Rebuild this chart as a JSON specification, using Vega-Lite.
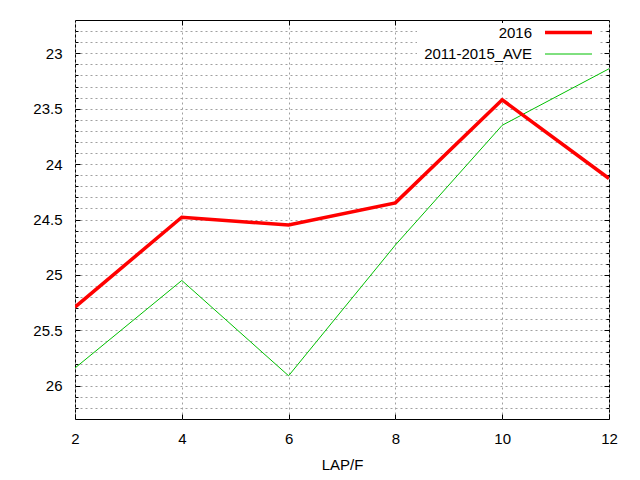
{
  "$schema": "https://vega.github.io/schema/vega-lite/v6.json",
  "width": 534,
  "height": 399,
  "autosize": "none",
  "padding": {"left": 75, "top": 20, "right": 31, "bottom": 61},
  "background": "white",
  "config": {
    "view": {"stroke": "black", "strokeWidth": 1},
    "font": "Liberation Sans",
    "axis": {
      "labelFont": "Liberation Sans",
      "labelFontSize": 15,
      "labelColor": "black",
      "titleFont": "Liberation Sans",
      "titleFontSize": 15,
      "titleFontWeight": "normal",
      "titleColor": "black",
      "domain": false,
      "tickColor": "black",
      "gridColor": "#a0a0a0",
      "gridDash": [2, 3],
      "gridWidth": 1,
      "gridOpacity": 1,
      "labelFlush": false,
      "labelOverlap": false
    },
    "legend": {
      "title": null,
      "orient": "none",
      "legendX": 342,
      "legendY": 3,
      "symbolType": "M-3.133,0H3.133",
      "symbolSize": 225,
      "symbolOffset": 142,
      "labelAlign": "right",
      "labelOffset": -46,
      "labelFont": "Liberation Sans",
      "labelFontSize": 15,
      "labelColor": "black",
      "padding": 0,
      "fillColor": "white",
      "rowPadding": 5
    }
  },
  "data": {
    "values": [
      {"lap": 2, "series": "2011-2015_AVE", "time": 25.84},
      {"lap": 4, "series": "2011-2015_AVE", "time": 25.05},
      {"lap": 6, "series": "2011-2015_AVE", "time": 25.91},
      {"lap": 8, "series": "2011-2015_AVE", "time": 24.73},
      {"lap": 10, "series": "2011-2015_AVE", "time": 23.65},
      {"lap": 12, "series": "2011-2015_AVE", "time": 23.14},
      {"lap": 2, "series": "2016", "time": 25.29},
      {"lap": 4, "series": "2016", "time": 24.48},
      {"lap": 6, "series": "2016", "time": 24.55},
      {"lap": 8, "series": "2016", "time": 24.35},
      {"lap": 10, "series": "2016", "time": 23.42},
      {"lap": 12, "series": "2016", "time": 24.13}
    ]
  },
  "layer": [
    {
      "mark": {"type": "line", "clip": true},
      "encoding": {
        "x": {
          "field": "lap",
          "type": "quantitative",
          "scale": {"domain": [2, 12], "nice": false, "zero": false},
          "axis": {
            "orient": "bottom",
            "title": "LAP/F",
            "values": [2, 4, 6, 8, 10, 12],
            "tickSize": -5,
            "labelPadding": 17,
            "titlePadding": 11,
            "grid": true
          }
        },
        "y": {
          "field": "time",
          "type": "quantitative",
          "scale": {"domain": [22.7, 26.3], "nice": false, "zero": false, "reverse": true},
          "axis": {
            "orient": "left",
            "title": null,
            "values": [22.8, 22.9, 23, 23.1, 23.2, 23.3, 23.4, 23.5, 23.6, 23.7, 23.8, 23.9, 24, 24.1, 24.2, 24.3, 24.4, 24.5, 24.6, 24.7, 24.8, 24.9, 25, 25.1, 25.2, 25.3, 25.4, 25.5, 25.6, 25.7, 25.8, 25.9, 26, 26.1, 26.2],
            "tickSize": {"condition": {"test": "abs(datum.value*2 - round(datum.value*2)) < 0.01", "value": -5}, "value": -3},
            "labelPadding": 18,
            "labelExpr": "abs(datum.value*2 - round(datum.value*2)) < 0.01 ? format(datum.value, '~g') : ''",
            "grid": true
          }
        },
        "color": {
          "field": "series",
          "type": "nominal",
          "scale": {"domain": ["2016", "2011-2015_AVE"], "range": ["#ff0000", "#00c000"]},
          "legend": {"title": null}
        },
        "strokeWidth": {
          "field": "series",
          "type": "nominal",
          "scale": {"domain": ["2016", "2011-2015_AVE"], "range": [3.5, 1]},
          "legend": {"title": null}
        }
      }
    },
    {
      "mark": {"type": "line", "opacity": 0},
      "encoding": {
        "x": {
          "field": "lap",
          "type": "quantitative",
          "scale": {"domain": [2, 12], "nice": false, "zero": false},
          "axis": {"orient": "top", "labels": false, "title": null, "grid": false, "tickSize": -5, "values": [4, 6, 8, 10]}
        },
        "y": {
          "field": "time",
          "type": "quantitative",
          "scale": {"domain": [22.7, 26.3], "nice": false, "zero": false, "reverse": true},
          "axis": {
            "orient": "right",
            "labels": false,
            "title": null,
            "grid": false,
            "values": [22.8, 22.9, 23, 23.1, 23.2, 23.3, 23.4, 23.5, 23.6, 23.7, 23.8, 23.9, 24, 24.1, 24.2, 24.3, 24.4, 24.5, 24.6, 24.7, 24.8, 24.9, 25, 25.1, 25.2, 25.3, 25.4, 25.5, 25.6, 25.7, 25.8, 25.9, 26, 26.1, 26.2],
            "tickSize": {"condition": {"test": "abs(datum.value*2 - round(datum.value*2)) < 0.01", "value": -5}, "value": -3}
          }
        },
        "detail": {"field": "series", "type": "nominal"}
      }
    }
  ],
  "resolve": {"axis": {"x": "independent", "y": "independent"}}
}
